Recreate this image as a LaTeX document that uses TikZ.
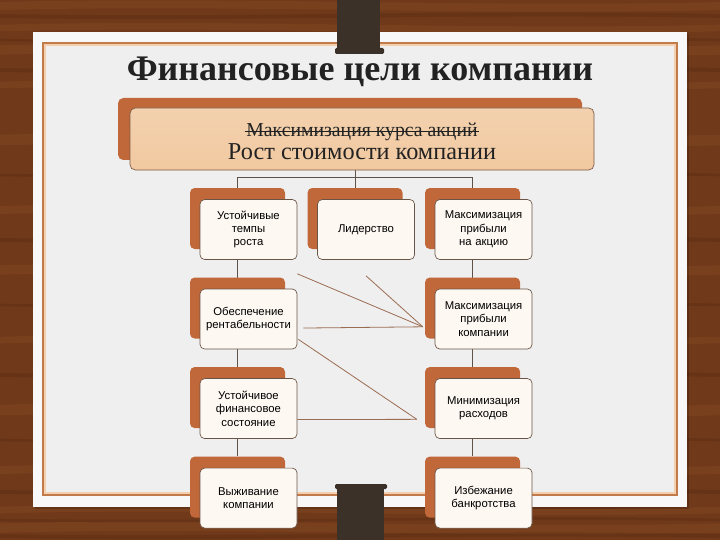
\documentclass[tikz,border=0pt]{standalone}
\usepackage{fontspec}
\setmainfont{Liberation Serif}
\setsansfont{Liberation Sans}
\usetikzlibrary{positioning, calc, backgrounds}
\definecolor{wood}{HTML}{70391A}
\definecolor{woodlight}{HTML}{9C5C2C}
\definecolor{wooddark}{HTML}{4A2410}
\definecolor{paper}{HTML}{EFEFEF}
\definecolor{paperedge}{HTML}{F8F8F8}
\definecolor{framecol}{HTML}{C27A4A}
\definecolor{framepeach}{HTML}{F3CFAE}
\definecolor{pincol}{HTML}{3B3129}
\definecolor{rust}{HTML}{C1683A}
\definecolor{tan}{HTML}{F1C9A0}
\definecolor{cream}{HTML}{FDF8F2}
\definecolor{edgecol}{HTML}{6A5446}
\definecolor{treecol}{HTML}{5E5249}
\definecolor{linkcol}{HTML}{9C6C52}
\definecolor{inkcol}{HTML}{222222}

\begin{document}
\begin{tikzpicture}[x=0.75pt, y=0.75pt, node distance=21pt and 16.5pt,
    every node/.style={font=\sffamily\fontsize{8.5}{10}\selectfont},
    backbox/.style={rectangle, fill=rust, rounded corners=3.5pt, minimum width=71.25pt, minimum height=45.75pt, inner sep=0pt},
    goalbox/.style={rectangle, draw=edgecol, line width=0.5pt, fill=cream, rounded corners=3.5pt, minimum width=72.75pt, minimum height=45pt, align=center, text width=70pt, inner sep=0pt},
    topback/.style={rectangle, fill=rust, rounded corners=4pt, minimum width=348pt, minimum height=46.5pt, inner sep=0pt},
    topfront/.style={rectangle, draw=edgecol!80!rust, line width=0.5pt, top color=tan!85!white, bottom color=tan, rounded corners=4pt, minimum width=348pt, minimum height=46.5pt, inner sep=0pt},
    tree/.style={draw=treecol, line width=0.6pt},
    cross/.style={draw=linkcol, line width=0.6pt},
]
\useasboundingbox (0,0) rectangle (720,540);

\node[font=\rmfamily\bfseries\fontsize{27}{27}\selectfont, text=inkcol] (title) at (360,468) {Финансовые цели компании};

\node[topback] (mainback) at (350,411) {};
\node[topfront] (main) at ($(mainback)+(12,-10)$) {};
\node[font=\rmfamily\fontsize{14.8}{15}\selectfont, text=inkcol] (oldgoal) at ($(main)+(0,7.5)$) {Максимизация курса акций};
\draw[inkcol, line width=0.7pt] ($(oldgoal.base west)+(3,4.8)$) -- ($(oldgoal.base east)+(-3,4.8)$);
\node[font=\rmfamily\fontsize{18.2}{18}\selectfont, text=inkcol] (newgoal) at ($(main)+(0,-13)$) {Рост стоимости компании};

\node[backbox] (b11) at (237.5,321.5) {};
\node[backbox, right=of b11] (b12) {};
\node[backbox, right=of b12] (b13) {};
\node[backbox, below=of b11] (b21) {};
\node[backbox, below=of b21] (b31) {};
\node[backbox, below=of b31] (b41) {};
\node[backbox, below=of b13] (b22) {};
\node[backbox, below=of b22] (b32) {};
\node[backbox, below=of b32] (b42) {};

\node[goalbox] (f11) at ($(b11)+(11,-11)$) {Устойчивые\\темпы\\роста};
\node[goalbox] (f12) at ($(b12)+(11,-11)$) {Лидерство};
\node[goalbox] (f13) at ($(b13)+(11,-11)$) {Максимизация\\прибыли\\на акцию};
\node[goalbox] (f21) at ($(b21)+(11,-11)$) {Обеспечение\\рентабельности};
\node[goalbox] (f31) at ($(b31)+(11,-11)$) {Устойчивое\\финансовое\\состояние};
\node[goalbox] (f41) at ($(b41)+(11,-11)$) {Выживание\\компании};
\node[goalbox] (f22) at ($(b22)+(11,-11)$) {Максимизация\\прибыли\\компании};
\node[goalbox] (f32) at ($(b32)+(11,-11)$) {Минимизация\\расходов};
\node[goalbox] (f42) at ($(b42)+(11,-11)$) {Избежание\\банкротства};

\coordinate (fork) at ($(b12.north)+(0,10)$);
\coordinate (hubA) at ($(b22.south west)+(-2,12)$);
\coordinate (hubB) at ($(b32.south west)+(-8,9)$);

\draw[cross] ($(f11.south east)+(0,-14)$) -- (hubA);
\draw[cross] ($(f12.south)+(0,-16)$) -- (hubA);
\draw[cross] ($(f21.east)+(6,-9)$) -- (hubA);
\draw[cross] ($(f21.south east)+(1,10)$) -- (hubB);
\draw[cross] ($(f31.east)+(0,-11)$) -- (hubB);

\begin{scope}[on background layer]
\fill[wood] (0,0) rectangle (720,540);
\foreach \yy/\ww in {534/6, 512/5, 490/7, 455/5, 400/8, 330/6, 270/7, 200/5, 130/8, 70/6, 30/5, 12/7}
  \draw[woodlight, opacity=0.22, line width=\ww] (0,\yy) .. controls (240,\yy+6) and (480,\yy-6) .. (720,\yy);
\foreach \yy/\ww in {524/3, 500/2, 470/3, 365/2, 300/3, 235/2, 165/3, 100/2, 48/3, 20/2, 4/3}
  \draw[wooddark, opacity=0.25, line width=\ww] (0,\yy) .. controls (260,\yy-4) and (460,\yy+5) .. (720,\yy);
\fill[black, opacity=0.18] (35,31) rectangle (689,506);
\fill[paperedge] (33,33) rectangle (687,508);
\fill[paper] (44,46) rectangle (676,496);
\draw[framepeach, line width=0.8pt] (45,47) rectangle (675,495);
\draw[framecol, line width=1.2pt] (43,45) rectangle (677,497);
\draw[tree] (main.south -| b12.north) -- (b12.north);
\draw[tree] (b11.north) -- (b11.north |- fork) -- (b13.north |- fork) -- (b13.north);
\draw[tree] (b11.south) -- (b41.north);
\draw[tree] (b13.south) -- (b42.north);
\end{scope}

\fill[pincol] (337,540) rectangle (380,491);
\fill[pincol, rounded corners=1pt] (335,492) rectangle (384,486);
\fill[pincol, rounded corners=1pt] (335,56) rectangle (387,51);
\fill[pincol] (337,52) rectangle (384,0);

\end{tikzpicture}
\end{document}
